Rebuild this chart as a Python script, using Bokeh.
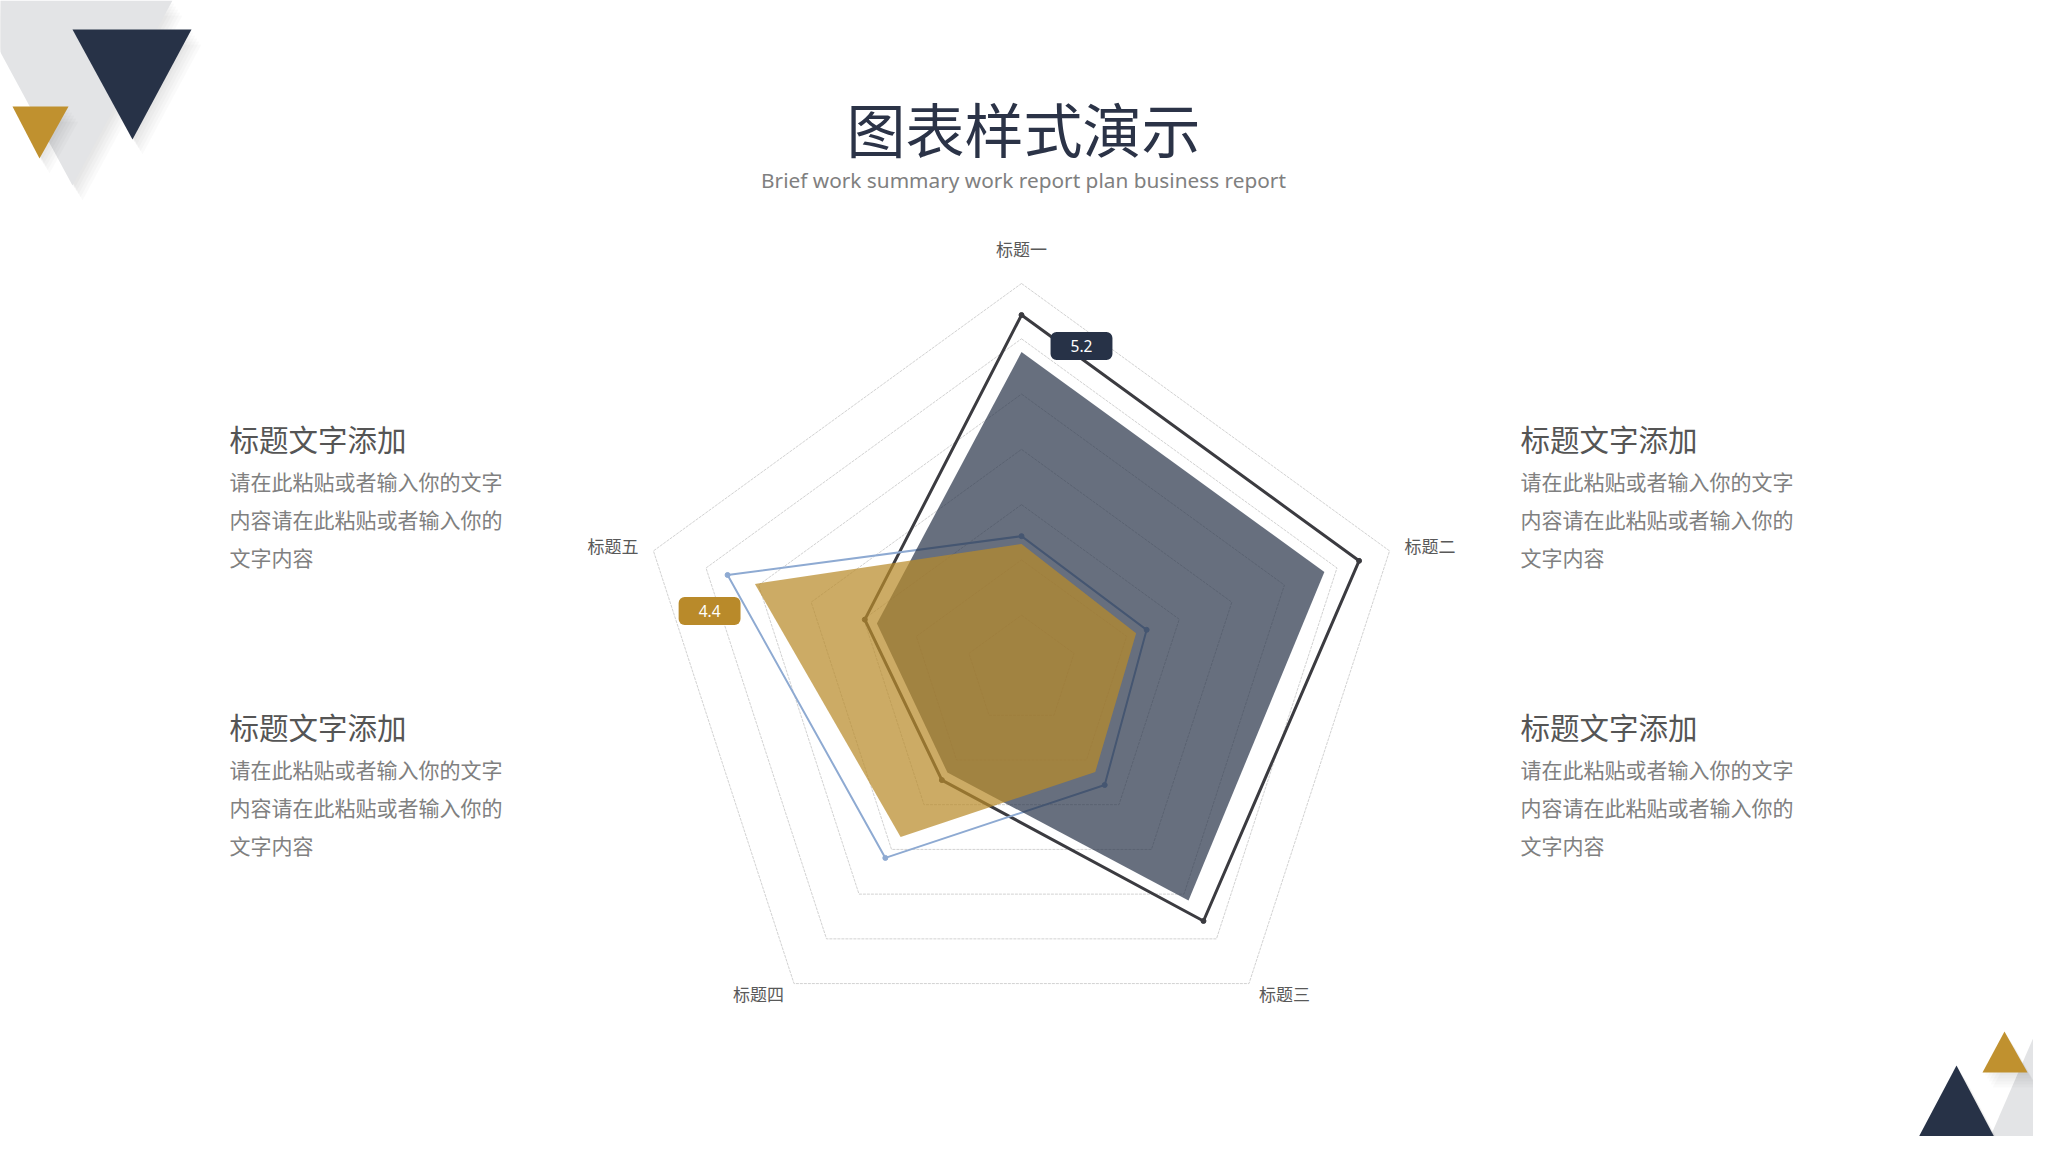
import numpy as np
from bokeh.plotting import figure
from bokeh.models import Range1d, Label
from bokeh.core.properties import value
from bokeh.embed import file_html
from bokeh.resources import INLINE

# ---------------- data ----------------
categories = ["标题一", "标题二", "标题三", "标题四", "标题五"]
navy_fill = [5.76, 5.76, 5.14, 2.28, 2.75]
dark_line = [6.43, 6.42, 5.60, 2.45, 2.98]
gold_fill = [2.29, 2.18, 2.27, 3.72, 5.07]
blue_line = [2.43, 2.38, 2.56, 4.19, 5.59]
ring_levels = [1, 2, 3, 4, 5, 6, 7]
value_labels = ["5.2", "4.4"]

title = "图表样式演示"
subtitle = "Brief work summary work report plan business report"
block_title = "标题文字添加"
block_lines = ["请在此粘贴或者输入你的文字", "内容请在此粘贴或者输入你的", "文字内容"]

# ---------------- layout ----------------
PW, PH = 2033, 1136
FULL_H = 1152


def sy(Y):
    return FULL_H - Y


p = figure(width=PW, height=PH, x_range=Range1d(0, PW), y_range=Range1d(FULL_H - PH, FULL_H),
           output_backend="svg", toolbar_location=None, min_border=0)
p.axis.visible = False
p.grid.visible = False
p.outline_line_color = None
p.background_fill_color = "white"
p.border_fill_color = "white"

NAVY = "#273247"
GOLD = "#c0912f"
GRAY_DECO = "#e3e4e6"


def tri(pts, color, shadow=True):
    xs = [a for a, b in pts]
    ys = [sy(b) for a, b in pts]
    if shadow:
        for k in range(1, 6):
            p.patch([x + 2 * k for x in xs], [y - 3 * k for y in ys], color="black", alpha=0.02, line_color=None)
    p.patch(xs, ys, color=color, line_color=None)


# decorative triangles (top-left)
tri([(-28, 0), (172, 0), (72, 185)], GRAY_DECO)
tri([(72, 29), (191, 29), (132, 139)], NAVY)
tri([(12, 106), (68, 106), (39, 158)], GOLD)
# decorative triangles (bottom-right)
tri([(2049, 1000), (1983, 1152), (2049, 1152)], GRAY_DECO, shadow=False)
tri([(1956, 1065), (1910, 1152), (2002, 1152)], NAVY)
tri([(2004, 1031), (1982, 1072), (2027, 1072)], GOLD)

# titles
CJK = value("Noto Sans CJK SC")
p.text(x=[1023], y=[sy(127)], text=[title], text_font=CJK, text_font_size="59px",
       text_color="#2b3347", text_align="center", text_baseline="middle")
p.text(x=[1023], y=[sy(179)], text=[subtitle], text_font=value("Noto Sans"), text_font_size="20.8px",
       text_color="#808080", text_align="center", text_baseline="middle")

# side text blocks
for bx in (229, 1520):
    for ty in (437, 725):
        p.text(x=[bx], y=[sy(ty)], text=[block_title], text_font=CJK, text_font_size="29.5px",
               text_color="#555555", text_align="left", text_baseline="middle")
        p.text(x=[bx] * 3, y=[sy(ty + 43 + 38 * i) for i in range(3)], text=block_lines, text_font=CJK,
               text_font_size="21px", text_color="#808080", text_align="left", text_baseline="middle")

# ---------------- radar ----------------
CX, CY = 1021, sy(670)
R = 387
MAXV = ring_levels[-1]
ang = np.deg2rad(90 - 72 * np.arange(len(categories)))


def polar(vals):
    r = np.asarray(vals, dtype=float) / MAXV * R
    return list(CX + r * np.cos(ang)), list(CY + r * np.sin(ang))


for lv in ring_levels:
    xs, ys = polar([lv] * len(categories))
    p.line(xs + xs[:1], ys + ys[:1], line_color="#d2d2d2", line_width=1, line_dash="3 1")

# line series (under fills)
xs, ys = polar(dark_line)
p.line(xs + xs[:1], ys + ys[:1], line_color="#3b3b40", line_width=3)
p.scatter(xs, ys, size=5, color="#3b3b40")
dark_xy = (xs, ys)
xs, ys = polar(blue_line)
p.line(xs + xs[:1], ys + ys[:1], line_color="#8eaad2", line_width=2)
p.scatter(xs, ys, size=5, color="#8eaad2")
blue_xy = (xs, ys)

# filled series
xs, ys = polar(navy_fill)
p.patch(xs, ys, color=NAVY, alpha=0.7, line_color=None)
xs, ys = polar(gold_fill)
p.patch(xs, ys, color="#b98a2a", alpha=0.72, line_color=None)

# category labels
vx, vy = polar([MAXV] * len(categories))
cosv = np.cos(ang)
for i, name in enumerate(categories):
    if abs(cosv[i]) < 1e-6:
        tx, ty, al = vx[i], vy[i] + 35, "center"
    else:
        side = 1 if cosv[i] > 0 else -1
        upper = vy[i] > CY
        tx = vx[i] + side * (15 if upper else 10)
        ty = vy[i] + (5 if upper else -10)
        al = "left" if side > 0 else "right"
    p.text(x=[tx], y=[ty], text=[name], text_font=CJK, text_font_size="17px", text_color="#595959",
           text_align=al, text_baseline="middle")

# value labels
lab1 = Label(x=dark_xy[0][0] + 60, y=dark_xy[1][0] - 31, text=value_labels[0], text_align="center",
             text_baseline="middle", text_color="white", text_font="Noto Sans", text_font_size="15.5px",
             background_fill_color=NAVY, border_radius=6, padding=(20, 20, 8, 8))
lab2 = Label(x=blue_xy[0][4] - 18, y=blue_xy[1][4] - 36, text=value_labels[1], text_align="center",
             text_baseline="middle", text_color="white", text_font="Noto Sans", text_font_size="15.5px",
             background_fill_color="#b98a2a", border_radius=6, padding=(20, 20, 8, 8))
p.add_layout(lab1)
p.add_layout(lab2)

open("out.html", "w").write(file_html(p, INLINE))
